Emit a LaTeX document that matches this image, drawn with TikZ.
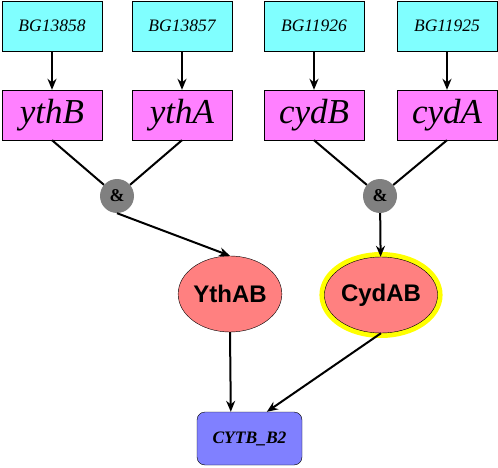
\documentclass[tikz,border=0pt]{standalone}
\usepackage{fontspec}
\setmainfont{Liberation Serif}
\setsansfont{Liberation Sans}
\usetikzlibrary{shapes.geometric, arrows.meta}
\definecolor{objcyan}{HTML}{80FFFF}
\definecolor{genepink}{HTML}{FF80FF}
\definecolor{andgray}{HTML}{808080}
\definecolor{protred}{HTML}{FF8080}
\definecolor{procblue}{HTML}{8080FF}
\definecolor{hiyellow}{HTML}{FFFF00}
\tikzstyle{object} = [rectangle, draw=black, fill=objcyan, minimum width=100pt, minimum height=50pt, inner sep=0pt, font=\fontsize{17.5}{17.5}\selectfont\itshape]
\tikzstyle{gene} = [rectangle, draw=black, fill=genepink, minimum width=100pt, minimum height=50pt, inner sep=0pt, font=\fontsize{35}{35}\selectfont\itshape]
\tikzstyle{andgate} = [circle, fill=andgray, minimum size=34pt, inner sep=0pt, font=\fontsize{18}{18}\selectfont\bfseries]
\tikzstyle{protein} = [ellipse, draw=black, fill=protred, minimum width=100pt, minimum height=76pt, inner sep=0pt, font=\fontsize{24}{24}\selectfont\sffamily\bfseries]
\tikzstyle{highlight} = [preaction={draw=hiyellow, line width=10pt}]
\tikzstyle{process} = [rectangle, rounded corners=8pt, draw=black, fill=procblue, minimum width=105pt, minimum height=53pt, inner sep=0pt, font=\fontsize{17.5}{17.5}\selectfont\bfseries\itshape]
\tikzstyle{link} = [line width=2pt]
\tikzstyle{arrow} = [line width=2pt,-{Stealth[length=11pt,width=9pt]}]

\begin{document}
\begin{tikzpicture}[x=1pt, y=-1pt]
\useasboundingbox (0,0) rectangle (498,468);

\node (bg1) [object] at (52,26) {BG13858};
\node (bg2) [object] at (182,26) {BG13857};
\node (bg3) [object] at (314,26) {BG11926};
\node (bg4) [object] at (447,26) {BG11925};
\node (ythB) [gene] at (52,115) {ythB};
\node (ythA) [gene] at (182,115) {ythA};
\node (cydB) [gene] at (314,115) {cydB};
\node (cydA) [gene] at (447,115) {cydA};
\node (and1) [andgate] at (117,196) {\&};
\node (and2) [andgate] at (380,196) {\&};
\node (ythab) [protein] at (230,294) {YthAB};
\node (cydab) [protein, highlight] at (381,295) {CydAB};
\node (cytb) [process] at (249.5,438.5) {CYTB\_B2};

\draw [arrow] (bg1) -- (ythB);
\draw [arrow] (bg2) -- (ythA);
\draw [arrow] (bg3) -- (cydB);
\draw [arrow] (bg4) -- (cydA);
\draw [link] (ythB.south) -- (and1);
\draw [link] (ythA.south) -- (and1);
\draw [link] (cydB.south) -- (and2);
\draw [link] (cydA.south) -- (and2);
\draw [arrow] (and1.south) -- (ythab.north);
\draw [arrow] (and2) -- (cydab);
\draw [arrow] (ythab.south) -- (cytb.125);
\draw [arrow] (cydab.south) -- (cytb.57);

\end{tikzpicture}
\end{document}
